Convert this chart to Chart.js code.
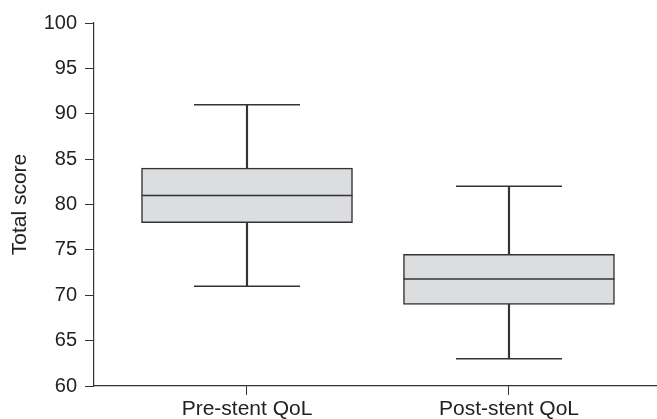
<!DOCTYPE html>
<html>
<head>
<meta charset="utf-8">
<script src="https://cdn.jsdelivr.net/npm/chart.js@4.4.1/dist/chart.umd.min.js"></script>
<style>
  html, body { margin: 0; padding: 0; background: #fff; }
  #wrap { width: 657px; height: 419px; }
</style>
</head>
<body>
<div id="wrap"><canvas id="myChart"></canvas></div>
<script>
// box plot values
const categories = ["Pre-stent QoL", "Post-stent QoL"];
const whiskerMin = [71, 63];
const q1 = [78, 69];
const median = [81, 71.8];
const q3 = [84, 74.5];
const whiskerMax = [91, 82];
const yMin = 60;
const yMax = 100;
const yStep = 5;

const lineColor = "#333333";
const boxFill = "#dcdddf";
const font = "'Liberation Sans', Arial, sans-serif";

const boxes = categories.map((c, i) => ({ x: i, y: [q1[i], q3[i]] }));
const upperStems = categories.map((c, i) => ({ x: i, y: [q3[i], whiskerMax[i]] }));
const lowerStems = categories.map((c, i) => ({ x: i, y: [whiskerMin[i], q1[i]] }));
const caps = [];
categories.forEach((c, i) => {
    caps.push({ x: i, y: whiskerMax[i] });
    caps.push({ x: i, y: whiskerMin[i] });
});
const medians = categories.map((c, i) => ({ x: i, y: median[i] }));

// first dataset is drawn on top, so the median line comes first
const config = {
    type: "bar",
    data: {
        datasets: [
            {
                type: "line",
                data: medians,
                showLine: false,
                pointStyle: "line",
                pointRadius: 105.5,
                pointBorderWidth: 1.5,
                borderColor: lineColor
            },
            {
                type: "line",
                data: caps,
                showLine: false,
                pointStyle: "line",
                pointRadius: 53,
                pointBorderWidth: 1.5,
                borderColor: lineColor
            },
            {
                data: boxes,
                backgroundColor: boxFill,
                borderColor: lineColor,
                borderWidth: 1.5,
                borderSkipped: false,
                barThickness: 211,
                grouped: false
            },
            {
                data: upperStems,
                backgroundColor: lineColor,
                borderWidth: 0,
                barThickness: 1.5,
                grouped: false
            },
            {
                data: lowerStems,
                backgroundColor: lineColor,
                borderWidth: 0,
                barThickness: 1.5,
                grouped: false
            }
        ]
    },
    options: {
        responsive: false,
        animation: false,
        layout: { autoPadding: false, padding: { top: 23, right: 0, left: 8, bottom: 0 } },
        plugins: {
            legend: { display: false },
            tooltip: { enabled: false }
        },
        scales: {
            x: {
                type: "linear",
                offset: false,
                min: -0.584,
                max: 1.565,
                afterBuildTicks: (scale) => {
                    scale.ticks = categories.map((c, i) => ({ value: i }));
                },
                afterFit: (scale) => { scale.height = 33; },
                ticks: {
                    callback: (v) => categories[v],
                    color: "#222",
                    font: { family: font, size: 21 },
                    padding: 2,
                    maxRotation: 0
                },
                grid: { offset: false, drawOnChartArea: false, tickLength: 9, color: lineColor },
                border: { color: lineColor, width: 1.2 }
            },
            y: {
                min: yMin,
                max: yMax,
                afterFit: (scale) => { scale.width = 86; },
                ticks: {
                    stepSize: yStep,
                    color: "#222",
                    font: { family: font, size: 20 },
                    padding: 8
                },
                grid: { drawOnChartArea: false, tickLength: 9, color: lineColor },
                border: { color: lineColor, width: 1.2 },
                title: {
                    display: true,
                    text: "Total score",
                    color: "#222",
                    font: { family: font, size: 21 },
                    padding: 0
                }
            }
        }
    }
};

const canvas = document.getElementById("myChart");
canvas.width = 657;
canvas.height = 419;
new Chart(canvas, config);
</script>
</body>
</html>
